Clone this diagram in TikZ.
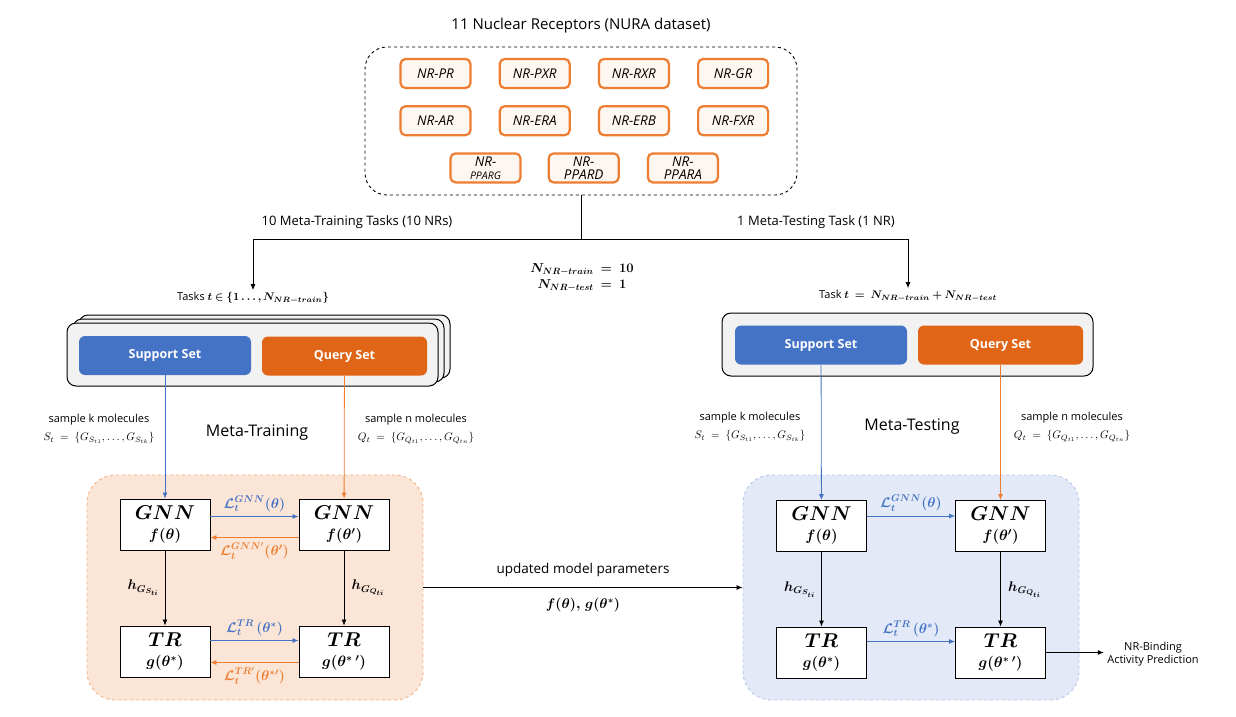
\documentclass[tikz,border=0pt]{standalone}
\usepackage{fix-cm}
\usepackage{fontspec}
\setmainfont{Open Sans}
\usepackage{amsmath,bm}
\usetikzlibrary{arrows.meta,positioning}
\definecolor{nrorange}{HTML}{ED7D31}
\definecolor{nrfill}{HTML}{FEF6F0}
\definecolor{setblue}{HTML}{4472C4}
\definecolor{setorange}{HTML}{E06516}
\definecolor{trainfill}{HTML}{FBE5D6}
\definecolor{trainedge}{HTML}{F4B183}
\definecolor{testfill}{HTML}{E3E9F6}
\definecolor{testedge}{HTML}{B4C7E7}
\definecolor{taskfill}{HTML}{F2F2F2}
\tikzset{
    nr/.style ={
        shape=rectangle,
        rounded corners=5pt,
        draw=nrorange,
        line width=2.2pt,
        fill=nrfill,
        minimum width=70pt,
        minimum height=29pt,
        inner sep=1pt,
        align=center,
        font=\itshape\fontsize{13.5}{13}\selectfont
    },
    pool/.style ={
        shape=rectangle,
        rounded corners=22pt,
        draw,
        dashed,
        line width=0.9pt,
        minimum width=432pt,
        minimum height=148pt
    },
    taskbox/.style ={
        shape=rectangle,
        rounded corners=9pt,
        draw,
        line width=1pt,
        fill=taskfill,
        minimum width=371pt,
        minimum height=63pt
    },
    support/.style ={
        shape=rectangle,
        rounded corners=6pt,
        fill=setblue,
        text=white,
        minimum width=172pt,
        minimum height=39pt,
        font=\bfseries\fontsize{12.5}{14}\selectfont
    },
    query/.style ={
        support,
        fill=setorange,
        minimum width=165pt
    },
    region/.style ={
        shape=rectangle,
        rounded corners=28pt,
        dashed,
        line width=0.9pt,
        minimum width=336pt,
        minimum height=225pt
    },
    model/.style ={
        shape=rectangle,
        draw,
        fill=white,
        line width=0.9pt,
        minimum width=90pt,
        minimum height=51pt,
        inner sep=1pt,
        align=center,
        font=\fontsize{15}{16}\selectfont
    },
    info/.style ={
        align=center,
        font=\fontsize{11}{13}\selectfont
    },
    heading/.style ={
        font=\fontsize{16}{18}\selectfont
    },
    loss/.style ={
        font=\fontsize{14}{16}\selectfont
    },
    flow/.style ={
        -{Latex[length=6pt,width=5pt]},
        line width=0.8pt
    },
    blueflow/.style ={flow, draw=setblue, text=setblue},
    orangeflow/.style ={flow, draw=nrorange, text=nrorange}
}

\begin{document}
\begin{tikzpicture}[x=1pt,y=-1pt]
    \useasboundingbox (0,0) rectangle (1236,716);
    % the eleven receptors
    \node[font=\fontsize{15}{17}\selectfont] (ttl) at (581,26) {11 Nuclear Receptors (NURA dataset)};
    \node[pool] (nrbox) at (581,121) {};
    \node[nr] (pr) at (435.5,73.5) {NR-PR};
    \node[nr,right=27pt of pr] (pxr) {NR-PXR};
    \node[nr,right=27pt of pxr] (rxr) {NR-RXR};
    \node[nr,right=27pt of rxr] (gr) {NR-GR};
    \node[nr,below=16pt of pr] (ar) {NR-AR};
    \node[nr,below=16pt of pxr] (era) {NR-ERA};
    \node[nr,below=16pt of rxr] (erb) {NR-ERB};
    \node[nr,below=16pt of gr] (fxr) {NR-FXR};
    \node[nr,below=16pt of ar,xshift=50pt] (pparg) {NR-\\{\fontsize{10.5}{10}\selectfont PPARG}};
    \node[nr,below=16pt of era,xshift=49pt] (ppard) {NR-\\PPARD};
    \node[nr,below=16pt of erb,xshift=49pt] (ppara) {NR-\\PPARA};

    % split into tasks
    \coordinate (fork) at (581,239);
    \node[font=\fontsize{13}{15}\selectfont] at (357,222) {10 Meta-Training Tasks (10 NRs)};
    \node[font=\fontsize{13}{15}\selectfont] at (816,222) {1 Meta-Testing Task (1 NR)};
    \node[info,inner sep=2pt] (trlabel) at (253,298) {Tasks $\bm{t\in\{1\ldots,N_{NR-train}\}}$};
    \node[info,inner sep=2pt] (telabel) at (908,296) {Task $\bm{t\ =\ N_{NR-train}+N_{NR-test}}$};
    \node[align=center,font=\fontsize{13}{16}\selectfont] (counts) at (582,278) {$\bm{N_{NR-train}\ =\ 10}$\\$\bm{N_{NR-test}\ =\ 1}$};
    \draw[line width=0.8pt] (nrbox.south) -- (fork);
    \draw[flow] (fork) -| (trlabel);
    \draw[flow] (fork) -| (telabel);

    % task sets
    \node[taskbox] (trback2) at (264.5,346.5) {};
    \node[taskbox] (trback1) at (258.5,350.5) {};
    \node[taskbox] (trtask) at (252.5,354.5) {};
    \node[support] (sup1) at (165,355.5) {Support Set};
    \node[query] (qry1) at (344.5,356) {Query Set};
    \node[taskbox] (tetask) at (907.5,344.5) {};
    \node[support] (sup2) at (821,345) {Support Set};
    \node[query] (qry2) at (1000.5,345) {Query Set};

    \node[info] at (99,429) {sample k molecules\\[5pt]$S_t\ =\ \{G_{S_{t1}},\ldots,G_{S_{tk}}\}$};
    \node[info] at (416,429) {sample n molecules\\[5pt]$Q_t\ =\ \{G_{Q_{t1}},\ldots,G_{Q_{tn}}\}$};
    \node[info] at (750,427) {sample k molecules\\[5pt]$S_t\ =\ \{G_{S_{t1}},\ldots,G_{S_{tk}}\}$};
    \node[info] at (1072,427) {sample n molecules\\[5pt]$Q_t\ =\ \{G_{Q_{t1}},\ldots,G_{Q_{tn}}\}$};
    \node[heading] at (257,433) {Meta-Training};
    \node[heading] at (912,427) {Meta-Testing};

    % meta-training and meta-testing
    \node[region,draw=trainedge,fill=trainfill] (lreg) at (255,587.5) {};
    \node[region,draw=testedge,fill=testfill] (rreg) at (911,587.5) {};

    \node[model] (gnn1) at (165,524.5) {{\fontsize{20}{22}\selectfont$\bm{GNN}$}\\[4pt]$\bm{f(\theta)}$};
    \node[model] (gnn2) at (344,524.5) {{\fontsize{20}{22}\selectfont$\bm{GNN}$}\\[4pt]$\bm{f(\theta')}$};
    \node[model] (tr1) at (165,651.5) {{\fontsize{20}{22}\selectfont$\bm{TR}$}\\[4pt]$\bm{g(\theta^*)}$};
    \node[model] (tr2) at (344,651.5) {{\fontsize{20}{22}\selectfont$\bm{TR}$}\\[4pt]$\bm{g(\theta^{*}\,')}$};
    \node[model] (gnn3) at (821.5,526) {{\fontsize{20}{22}\selectfont$\bm{GNN}$}\\[4pt]$\bm{f(\theta)}$};
    \node[model] (gnn4) at (1000.5,526) {{\fontsize{20}{22}\selectfont$\bm{GNN}$}\\[4pt]$\bm{f(\theta')}$};
    \node[model] (tr3) at (821.5,652.5) {{\fontsize{20}{22}\selectfont$\bm{TR}$}\\[4pt]$\bm{g(\theta^*)}$};
    \node[model] (tr4) at (1000.5,652.5) {{\fontsize{20}{22}\selectfont$\bm{TR}$}\\[4pt]$\bm{g(\theta^{*}\,')}$};
    \node[info] (pred) at (1153,654) {NR-Binding\\Activity Prediction};

    \draw[blueflow] (sup1) -- (gnn1);
    \draw[orangeflow] (qry1) -- (gnn2);
    \draw[blueflow] (sup2) -- (gnn3);
    \draw[orangeflow] (qry2) -- (gnn4);

    \draw[blueflow] ([yshift=8pt]gnn1.east) -- node[above=1pt,loss] {$\bm{\mathcal{L}_t^{GNN}(\theta)}$} ([yshift=8pt]gnn2.west);
    \draw[orangeflow] ([yshift=-13pt]gnn2.west) -- node[below=1pt,loss] {$\bm{\mathcal{L}_t^{GNN'}(\theta')}$} ([yshift=-13pt]gnn1.east);
    \draw[blueflow] ([yshift=11pt]tr1.east) -- node[above=1pt,loss] {$\bm{\mathcal{L}_t^{TR}\,(\theta^*)}$} ([yshift=11pt]tr2.west);
    \draw[orangeflow] ([yshift=-11pt]tr2.west) -- node[below=1pt,loss] {$\bm{\mathcal{L}_t^{TR'}(\theta^{*\prime})}$} ([yshift=-11pt]tr1.east);
    \draw[blueflow] ([yshift=10pt]gnn3.east) -- node[above=1pt,loss] {$\bm{\mathcal{L}_t^{GNN}(\theta)}$} ([yshift=10pt]gnn4.west);
    \draw[blueflow] ([yshift=11pt]tr3.east) -- node[above=1pt,loss] {$\bm{\mathcal{L}_t^{TR}\,(\theta^*)}$} ([yshift=11pt]tr4.west);

    \draw[flow] (gnn1) -- node[left=2pt,loss] {$\bm{h_{G_{S_{ti}}}}$} (tr1);
    \draw[flow] (gnn2) -- node[right=4pt,loss] {$\bm{h_{G_{Q_{ti}}}}$} (tr2);
    \draw[flow] (gnn3) -- node[left=2pt,loss] {$\bm{h_{G_{S_{ti}}}}$} (tr3);
    \draw[flow] (gnn4) -- node[right=4pt,loss] {$\bm{h_{G_{Q_{ti}}}}$} (tr4);

    \draw[flow] (lreg) -- node[above=7pt,font=\fontsize{13.5}{15}\selectfont] {updated model parameters}
        node[below=7pt,loss] {$\bm{f(\theta),\,g(\theta^*)}$} (rreg);
    \draw[flow] (tr4.east) -- (tr4.east -| pred.west);
\end{tikzpicture}
\end{document}
